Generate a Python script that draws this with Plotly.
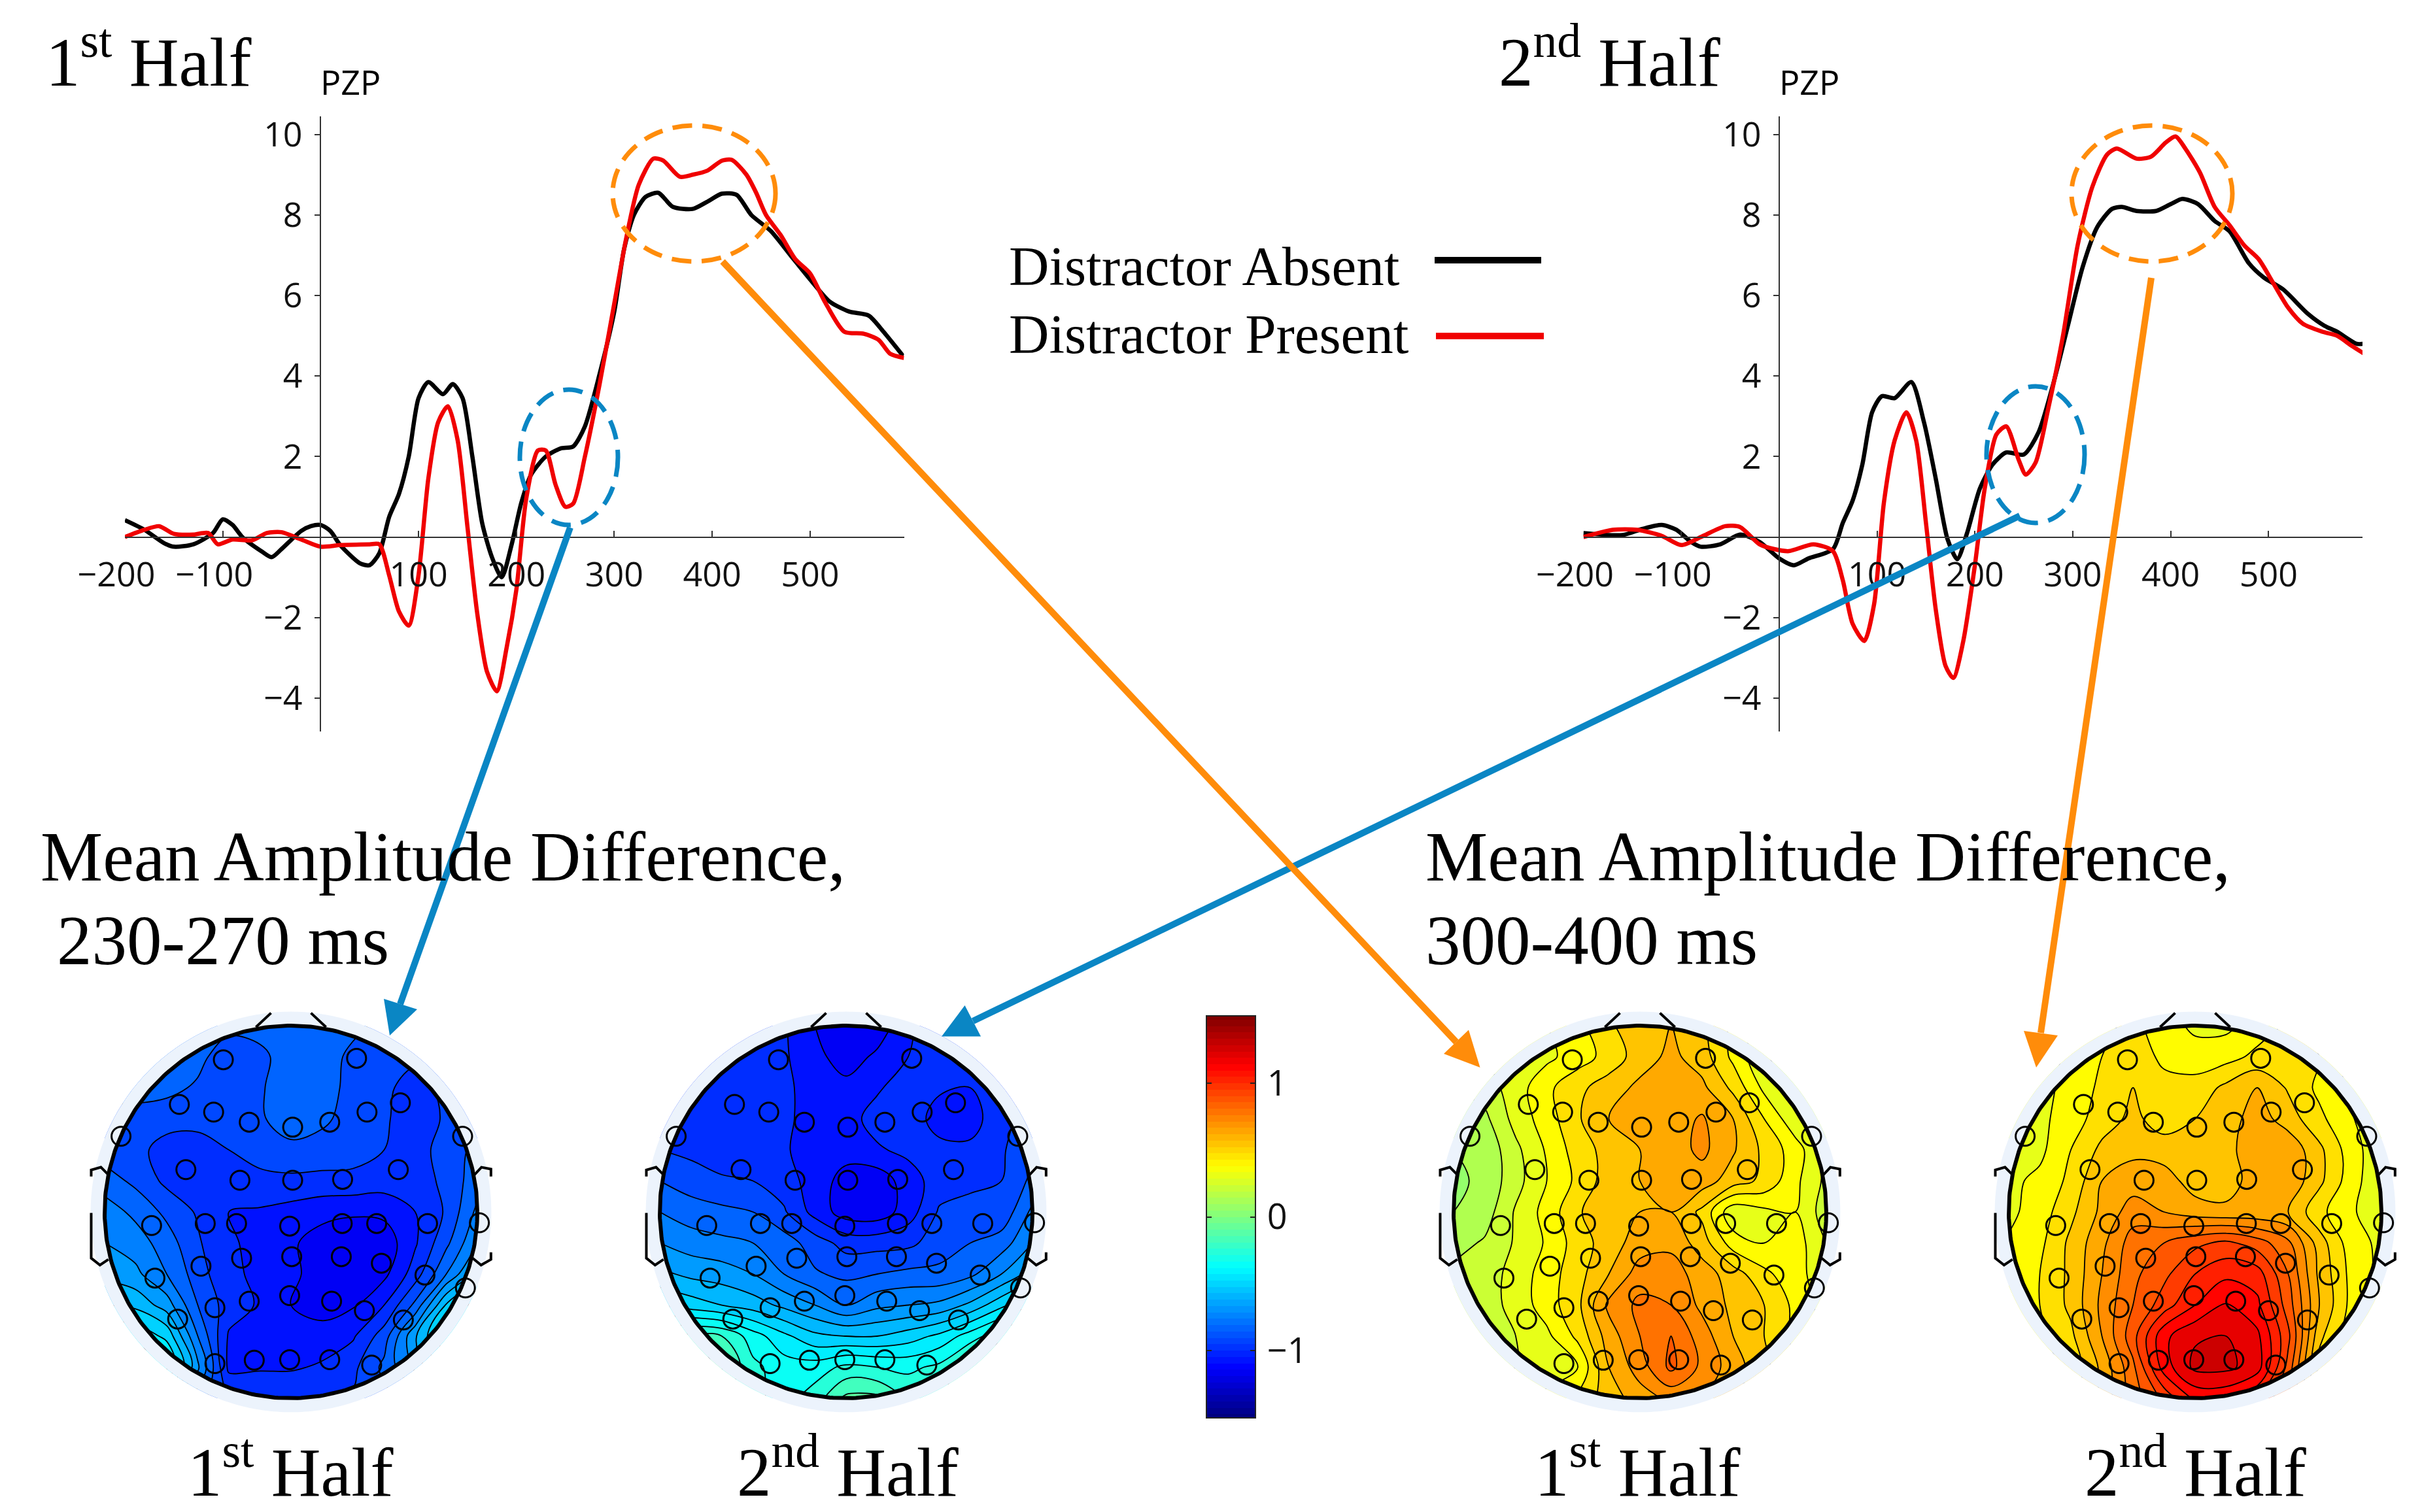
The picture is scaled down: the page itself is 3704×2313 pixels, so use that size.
import numpy as np
import plotly.graph_objects as go

W, H = 3704, 2313
SERIF = "Liberation Serif"
SANS = "Open Sans"
ORANGE = "#ff8c0a"
BLUE = "#0a86c4"

# ---------- ERP waveforms (PZ, ms / microvolts) ----------
first_absent_ms = [-200,-180,-160,-150,-130,-110,-100,-90,-80,-60,-50,-40,-20,-10,0,10,20,40,50,60,70,80,90,100,110,125,135,145,155,165,175,185,195,205,215,230,245,258,270,285,300,310,320,332,345,360,380,395,410,425,440,460,480,500,520,540,560,575,595]
first_absent_uv = [.42,.18,-.15,-.24,-.18,.1,.44,.3,0,-.36,-.5,-.3,.15,.27,.3,.15,-.2,-.65,-.7,-.4,.5,1.07,2,3.45,3.85,3.55,3.8,3.45,2,.35,-.5,-1,-.2,.85,1.55,2,2.2,2.25,2.75,4.05,5.6,7.15,8,8.45,8.55,8.2,8.15,8.33,8.53,8.5,8,7.6,7,6.4,5.85,5.6,5.5,5.1,4.5]
first_present_ms = [-200,-180,-165,-150,-130,-115,-105,-90,-70,-55,-40,-20,0,20,50,60,70,80,90,100,110,120,130,140,150,160,170,180,190,200,210,222,230,240,250,258,270,285,300,312,325,340,350,367,380,395,410,420,435,445,455,470,485,500,515,535,555,570,582,596]
first_present_uv = [0,.18,.27,.08,.06,.1,-.18,-.06,-.08,.1,.12,-.06,-.24,-.2,-.18,-.18,-.95,-1.85,-2.2,-.95,1.45,2.85,3.25,2.4,.25,-1.9,-3.35,-3.83,-2.75,-1.3,.95,2.15,2.15,1.3,.75,.83,2,3.8,5.8,7.4,8.75,9.4,9.35,8.95,9,9.1,9.35,9.37,9,8.55,8,7.5,6.9,6.55,5.85,5.1,5.05,4.9,4.55,4.45]
second_absent_ms = [-200,-160,-140,-120,-105,-90,-80,-60,-40,-20,0,15,30,55,65,75,85,95,105,118,135,148,160,172,182,192,205,218,232,250,265,280,295,310,325,340,350,365,385,400,412,428,445,460,480,495,515,540,557,570,590,597]
second_absent_uv = [.1,.05,.2,.3,.18,-.12,-.24,-.18,.06,-.12,-.53,-.7,-.53,-.3,.35,.9,1.8,3.1,3.5,3.45,3.85,2.85,1.45,-.05,-.55,.1,1.2,1.8,2.1,2.05,2.6,3.8,5.25,6.7,7.7,8.15,8.2,8.1,8.1,8.27,8.4,8.27,7.85,7.6,6.8,6.45,6.15,5.55,5.25,5.1,4.8,4.8]
second_present_ms = [-200,-170,-145,-120,-100,-80,-55,-40,-20,-5,10,35,55,65,75,87,97,107,118,130,140,150,160,170,178,188,200,210,222,232,245,252,262,275,290,305,320,335,345,365,380,395,405,415,430,445,460,475,490,505,520,535,555,570,585,598]
second_present_uv = [0,.18,.18,.03,-.2,0,.27,.25,-.18,-.3,-.35,-.18,-.35,-1.07,-2.15,-2.58,-1.67,.85,2.4,3.1,2.4,.35,-1.8,-3.2,-3.5,-2.6,-.7,1.2,2.55,2.75,1.9,1.55,1.85,3.2,5,7.25,8.7,9.5,9.65,9.4,9.45,9.8,9.95,9.65,9.05,8.2,7.75,7.25,6.9,6.3,5.7,5.3,5.1,5,4.75,4.55]

# ---------- scalp maps: mean amplitude difference on a 13x13 grid, top row first ----------
grid_axis = [-1,-5/6,-4/6,-3/6,-2/6,-1/6,0,1/6,2/6,3/6,4/6,5/6,1]
map_first_early = [
 [-.84,-.84,-.84,-.84,-.86,-.85,-.82,-.82,-.86,-.9,-.92,-.9,-.88],
 [-.84,-.84,-.84,-.86,-.92,-.9,-.84,-.84,-.9,-.93,-.94,-.92,-.9],
 [-.84,-.84,-.86,-.89,-.92,-.89,-.83,-.84,-.91,-.94,-1.0,-.93,-.9],
 [-.92,-.92,-.92,-.93,-.93,-.89,-.84,-.86,-.92,-.95,-1.0,-.95,-.92],
 [-.92,-.93,-1.0,-1.0,-.96,-.93,-.9,-.92,-.93,-.96,-1.0,-.92,-.86],
 [-.84,-.9,-.98,-1.01,-1.0,-.98,-.98,-.98,-.98,-1.0,-1.02,-.93,-.84],
 [-.76,-.82,-.9,-.97,-1.04,-1.05,-1.07,-1.1,-1.11,-1.1,-1.04,-.95,-.78],
 [-.72,-.76,-.84,-.95,-1.03,-1.06,-1.11,-1.15,-1.17,-1.17,-1.05,-.9,-.72],
 [-.66,-.7,-.8,-.92,-1.03,-1.05,-1.1,-1.16,-1.17,-1.14,-1.0,-.8,-.6],
 [-.56,-.58,-.68,-.88,-1.0,-1.05,-1.12,-1.16,-1.13,-1.04,-.86,-.55,-.45],
 [-.4,-.42,-.5,-.8,-1.05,-1.07,-1.08,-1.08,-1.05,-.92,-.65,-.42,-.4],
 [-.35,-.35,-.38,-.7,-1.06,-1.05,-1.05,-1.03,-.98,-.86,-.7,-.5,-.4],
 [-.6,-.6,-.7,-.85,-.95,-.97,-.97,-.96,-.95,-.9,-.85,-.7,-.6]]
map_second_early = [
 [-1.0,-1.0,-1.0,-1.0,-1.03,-1.12,-1.18,-1.18,-1.05,-1.0,-.98,-.98,-.98],
 [-1.0,-1.0,-1.0,-1.0,-1.03,-1.09,-1.17,-1.1,-1.04,-1.0,-.99,-.98,-.98],
 [-.99,-.99,-1.0,-1.0,-1.02,-1.08,-1.09,-1.05,-1.0,-1.03,-1.04,-.98,-.95],
 [-.98,-.99,-1.0,-1.0,-1.02,-1.08,-1.07,-1.01,-1.0,-1.07,-1.08,-.98,-.93],
 [-.96,-.98,-1.0,-1.0,-1.03,-1.08,-1.09,-1.05,-1.02,-1.02,-1.02,-.97,-.9],
 [-.88,-.92,-.95,-.96,-1.0,-1.08,-1.15,-1.17,-1.08,-1.0,-1.0,-.96,-.86],
 [-.8,-.84,-.86,-.88,-.95,-1.07,-1.16,-1.17,-1.08,-.95,-.9,-.94,-.78],
 [-.72,-.76,-.78,-.8,-.84,-.92,-.99,-.99,-.98,-.92,-.88,-.84,-.72],
 [-.62,-.66,-.68,-.72,-.8,-.87,-.9,-.88,-.86,-.86,-.82,-.72,-.6],
 [-.48,-.52,-.56,-.6,-.66,-.72,-.8,-.74,-.72,-.7,-.62,-.5,-.4],
 [-.22,-.22,-.24,-.36,-.46,-.54,-.56,-.56,-.52,-.46,-.36,-.26,-.2],
 [-.1,-.1,-.15,-.3,-.36,-.36,-.3,-.32,-.34,-.3,-.18,-.15,-.2],
 [-.2,-.2,-.25,-.3,-.35,-.28,-.14,-.14,-.25,-.25,-.2,-.2,-.2]]
map_first_late = [
 [.28,.28,.3,.32,.38,.46,.56,.56,.5,.38,.28,.2,.2],
 [.25,.25,.27,.3,.36,.43,.52,.58,.52,.38,.25,.2,.2],
 [.16,.2,.28,.38,.46,.52,.58,.6,.58,.46,.3,.22,.2],
 [.12,.14,.27,.36,.47,.56,.58,.6,.65,.56,.4,.26,.2],
 [.08,.1,.22,.33,.44,.51,.56,.6,.66,.57,.46,.36,.22],
 [.06,.1,.21,.32,.42,.52,.56,.58,.6,.52,.46,.34,.22],
 [.08,.12,.25,.35,.47,.54,.56,.56,.46,.26,.3,.32,.2],
 [.13,.17,.25,.33,.44,.52,.6,.62,.52,.36,.32,.36,.24],
 [.18,.2,.27,.36,.45,.56,.68,.68,.6,.52,.42,.35,.27],
 [.2,.2,.27,.36,.46,.66,.74,.72,.62,.54,.48,.38,.28],
 [.24,.24,.24,.3,.42,.6,.72,.8,.68,.56,.48,.38,.3],
 [.24,.24,.24,.26,.32,.56,.68,.82,.7,.6,.5,.4,.3],
 [.3,.3,.3,.35,.42,.52,.6,.66,.64,.58,.48,.4,.35]]
map_second_late = [
 [.3,.3,.33,.38,.42,.36,.3,.3,.36,.4,.35,.3,.3],
 [.3,.3,.33,.4,.45,.38,.36,.37,.42,.46,.4,.3,.28],
 [.28,.3,.34,.42,.48,.43,.43,.5,.56,.47,.38,.3,.27],
 [.27,.3,.36,.44,.5,.44,.48,.52,.6,.52,.42,.33,.25],
 [.26,.3,.4,.5,.54,.52,.52,.54,.6,.62,.5,.36,.26],
 [.3,.34,.42,.56,.6,.6,.52,.52,.6,.62,.5,.36,.25],
 [.3,.36,.46,.58,.68,.64,.6,.58,.58,.56,.42,.34,.24],
 [.33,.38,.5,.62,.76,.8,.86,.9,.84,.74,.52,.36,.3],
 [.34,.4,.5,.64,.78,.86,.96,1.02,1.0,.8,.54,.38,.3],
 [.36,.4,.5,.66,.8,.92,1.04,1.13,1.06,.84,.56,.38,.32],
 [.38,.38,.46,.64,.85,1.1,1.19,1.2,1.14,.9,.5,.36,.32],
 [.38,.38,.42,.58,.78,1.08,1.22,1.22,1.16,.85,.45,.38,.34],
 [.4,.4,.45,.58,.76,.9,1.06,1.06,.96,.8,.5,.4,.36]]

# electrode positions on the unit head
electrode_u = [-.363,.352,-.599,-.415,-.224,.009,.208,.408,.587,-.912,.921,-.564,-.274,.009,.277,.576,-.748,-.46,-.292,-.007,.275,.46,.733,1.011,-.483,-.265,.004,.27,.485,-.73,.719,.936,-.408,-.224,-.007,.218,.394,-.608,.603,-.408,-.197,-.007,.208,.433]
electrode_v = [.817,.825,.577,.536,.482,.455,.482,.536,.586,.406,.406,.227,.17,.17,.175,.227,-.073,-.062,-.062,-.076,-.062,-.062,-.062,-.058,-.291,-.248,-.24,-.24,-.275,-.355,-.339,-.408,-.514,-.479,-.449,-.479,-.53,-.575,-.58,-.814,-.796,-.793,-.793,-.822]

colorbar_levels = list(np.linspace(-1.5, 1.5, 64))
x_ticks = [-200,-100,100,200,300,400,500]
x_tick_text = ["\u2212200\u2002","\u2212100\u2002","100","200","300","400","500"]
y_ticks = [-4,-2,2,4,6,8,10]
y_tick_text = ["\u22124","\u22122","2","4","6","8","10"]

JET = [[0,"rgb(0,0,128)"],[.125,"rgb(0,0,255)"],[.375,"rgb(0,255,255)"],
       [.625,"rgb(255,255,0)"],[.875,"rgb(255,0,0)"],[1,"rgb(128,0,0)"]]

def px(x): return x / W
def py(y): return 1 - y / H

fig = go.Figure()
layout = {}

# ---------- ERP panels ----------
def erp_panel(i, x0, x_end, axis_x, series):
    xn = "x" if i == 1 else f"x{i}"
    yn = "y" if i == 1 else f"y{i}"
    for ms, uv, col in series:
        fig.add_trace(go.Scatter(x=ms, y=uv, mode="lines", xaxis=xn, yaxis=yn, showlegend=False,
                                 line=dict(color=col, width=6.5, shape="spline", smoothing=.7), hoverinfo="skip"))
    suffix = "" if i == 1 else str(i)
    layout["xaxis" + suffix] = dict(domain=[px(x0), px(x_end)], range=[-200, 596], anchor="free", position=py(821.7),
        tickmode="array", tickvals=x_ticks, ticktext=x_tick_text, ticks="inside", ticklen=9, tickwidth=2, tickcolor="#333",
        showline=True, linecolor="#333", linewidth=2, showgrid=False, zeroline=False, ticklabelstandoff=12,
        tickfont=dict(family=SANS, size=52, color="#111"))
    layout["yaxis" + suffix] = dict(domain=[py(1119), py(178)], range=[-4.83, 10.45], anchor="free", position=px(axis_x),
        tickmode="array", tickvals=y_ticks, ticktext=y_tick_text, ticks="outside", ticklen=8, tickwidth=2, tickcolor="#333",
        showline=True, linecolor="#333", linewidth=2, showgrid=False, zeroline=False, ticklabelstandoff=8,
        tickfont=dict(family=SANS, size=52, color="#111"))

erp_panel(1, 191, 1382.5, 490, [(first_absent_ms, first_absent_uv, "black"), (first_present_ms, first_present_uv, "#f00000")])
erp_panel(2, 2421.5, 3613, 2721, [(second_absent_ms, second_absent_uv, "black"), (second_present_ms, second_present_uv, "#f00000")])

# ---------- scalp maps ----------
theta = np.linspace(0, 2*np.pi, 361)
cx, cy = np.cos(theta), np.sin(theta)
L = 1.155
R_HALO = 1.075
ear_l_top = ([-.985,-1.02,-1.072,-1.072], [.205,.24,.225,.19])
ear_l_bot = ([-1.072,-1.072,-1.025,-.98], [-.005,-.248,-.285,-.255])
ear_r_top = ([.985,1.022,1.073,1.073], [.2,.24,.23,.19])
ear_r_bot = ([.975,1.02,1.073,1.073], [-.248,-.285,-.255,-.217])
nose_l = ([-.188,-.107], [.992,1.068])
nose_r = ([.188,.107], [.992,1.068])

def head(i, center_x, z):
    xn, yn = f"x{i}", f"y{i}"
    common = dict(xaxis=xn, yaxis=yn, showlegend=False, hoverinfo="skip")
    fig.add_trace(go.Contour(x=grid_axis, y=grid_axis[::-1], z=z, colorscale=JET, zmin=-1.5, zmax=1.5, zauto=False, showscale=False,
                             contours=dict(coloring="fill", start=-1.52, end=1.52, size=.08),
                             line=dict(color="black", width=1.8, smoothing=1.0), xaxis=xn, yaxis=yn, hoverinfo="skip"))
    # white surround with a round hole, then pale halo ring
    mx = [-L, L, L, -L, -L, -L] + list(-R_HALO * cx) + [-L]
    my = [-L, -L, L, L, -L, 0] + list(R_HALO * cy) + [0]
    fig.add_trace(go.Scatter(x=mx, y=my, fill="toself", fillcolor="white", mode="none", **common))
    hx = list(R_HALO * cx) + [R_HALO] + list(cx[::-1]) + [1, R_HALO]
    hy = list(R_HALO * cy) + [0] + list(cy[::-1]) + [0, 0]
    fig.add_trace(go.Scatter(x=hx, y=hy, fill="toself", fillcolor="#ecf3fc", mode="none", **common))
    fig.add_trace(go.Scatter(x=cx, y=cy, mode="lines", line=dict(color="black", width=6), **common))
    for ex, ey in (ear_l_top, ear_l_bot, ear_r_top, ear_r_bot, nose_l, nose_r):
        fig.add_trace(go.Scatter(x=ex, y=ey, mode="lines", line=dict(color="black", width=4), **common))
    fig.add_trace(go.Scatter(x=electrode_u, y=electrode_v, mode="markers", cliponaxis=False,
                             marker=dict(symbol="circle-open", size=29, color="black", line=dict(width=3, color="black")), **common))
    half = 285 * L
    hide = dict(visible=False, showgrid=False, zeroline=False, range=[-L, L], fixedrange=True)
    layout[f"xaxis{i}"] = dict(domain=[px(center_x - half), px(center_x + half)], anchor=yn, **hide)
    layout[f"yaxis{i}"] = dict(domain=[py(1854 + half), py(1854 - half)], anchor=xn, **hide)

head(3, 445, map_first_early)
head(4, 1294, map_second_early)
head(5, 2508, map_first_late)
head(6, 3357, map_second_late)

# ---------- colour bar ----------
fig.add_trace(go.Heatmap(x=[0, 1], y=colorbar_levels, z=[[v, v] for v in colorbar_levels], colorscale=JET, zmin=-1.5, zmax=1.5,
                         showscale=False, xaxis="x7", yaxis="y7", hoverinfo="skip"))
layout["xaxis7"] = dict(domain=[px(1846), px(1919)], anchor="y7", showticklabels=False, ticks="", showgrid=False, zeroline=False,
                        showline=True, linecolor="#222", linewidth=2, mirror=True, range=[0, 1])
layout["yaxis7"] = dict(domain=[py(2168), py(1555)], anchor="x7", side="right", range=[-1.5, 1.5], tickmode="array",
                        tickvals=[-1, 0, 1], ticktext=["\u22121", "0", "1"], ticks="inside", ticklen=7, tickwidth=2, tickcolor="#222",
                        mirror="allticks", showline=True, linecolor="#222", linewidth=2, showgrid=False, zeroline=False,
                        tickfont=dict(family=SANS, size=54, color="#111"), ticklabelstandoff=6)

# ---------- shapes: highlight ellipses, arrows, legend key ----------
shapes = []
def ell(x0, x1, y0, y1, col):
    shapes.append(dict(type="circle", xref="paper", yref="paper", x0=px(x0), x1=px(x1), y0=py(y1), y1=py(y0),
                       line=dict(color=col, width=7, dash="30px,16px"), layer="above"))
def seg(x0, y0, x1, y1, col, w):
    shapes.append(dict(type="line", xref="paper", yref="paper", x0=px(x0), y0=py(y0), x1=px(x1), y1=py(y1),
                       line=dict(color=col, width=w), layer="above"))
def tri(a, b, c, col):
    path = "M {} {} L {} {} L {} {} Z".format(px(a[0]), py(a[1]), px(b[0]), py(b[1]), px(c[0]), py(c[1]))
    shapes.append(dict(type="path", xref="paper", yref="paper", path=path, fillcolor=col, line=dict(width=0), layer="above"))

ell(937, 1186, 192, 400, ORANGE)
ell(795, 945, 596, 803, BLUE)
ell(3168, 3414, 192, 400, ORANGE)
ell(3038, 3188, 591, 800, BLUE)

seg(872, 807, 612, 1536, BLUE, 10)
tri((596, 1584), (587, 1528), (638, 1544), BLUE)
seg(3089, 789, 1488, 1562, BLUE, 10)
tri((1440, 1585.5), (1475.5, 1538), (1500, 1585.5), BLUE)
seg(1105, 400, 2227, 1594, ORANGE, 10)
tri((2263.5, 1633), (2246, 1575.5), (2208, 1612), ORANGE)
seg(3290, 425, 3121, 1580, ORANGE, 10)
tri((3114, 1633), (3095, 1577), (3147, 1584), ORANGE)

seg(2194, 398, 2357, 398, "black", 10)
seg(2196, 514, 2361, 514, "#f00000", 10)

# ---------- text ----------
notes = []
def text(x, y, s, size, family=SERIF):
    notes.append(dict(xref="paper", yref="paper", x=px(x), y=py(y), text=s, showarrow=False, xanchor="left", yanchor="bottom",
                      align="left", font=dict(family=family, size=size, color="black")))

text(68, 156, "1<sup>st</sup> Half", 105)
text(2290, 156, "2<sup>nd</sup> Half", 105)
text(488, 162, "PZP", 52, SANS)
text(2719, 162, "PZP", 52, SANS)
text(1541, 456, "Distractor Absent", 85)
text(1541, 560, "Distractor Present", 85)
text(60, 1372, "Mean Amplitude Difference,", 107)
text(85, 1500, "230-270 ms", 107)
text(2178, 1372, "Mean Amplitude Difference,", 107)
text(2178, 1500, "300-400 ms", 107)
text(285, 2313, "1<sup>st</sup> Half", 105)
text(1125, 2313, "2<sup>nd</sup> Half", 105)
text(2345, 2313, "1<sup>st</sup> Half", 105)
text(3186, 2313, "2<sup>nd</sup> Half", 105)

fig.update_layout(width=W, height=H, margin=dict(l=0, r=0, t=0, b=0, autoexpand=False), paper_bgcolor="white", plot_bgcolor="rgba(0,0,0,0)",
                  showlegend=False, shapes=shapes, annotations=notes, **layout)
fig.write_html("out.html", config={"displayModeBar": False},
               post_script="document.body.style.margin='0';document.documentElement.style.overflow='hidden';")
